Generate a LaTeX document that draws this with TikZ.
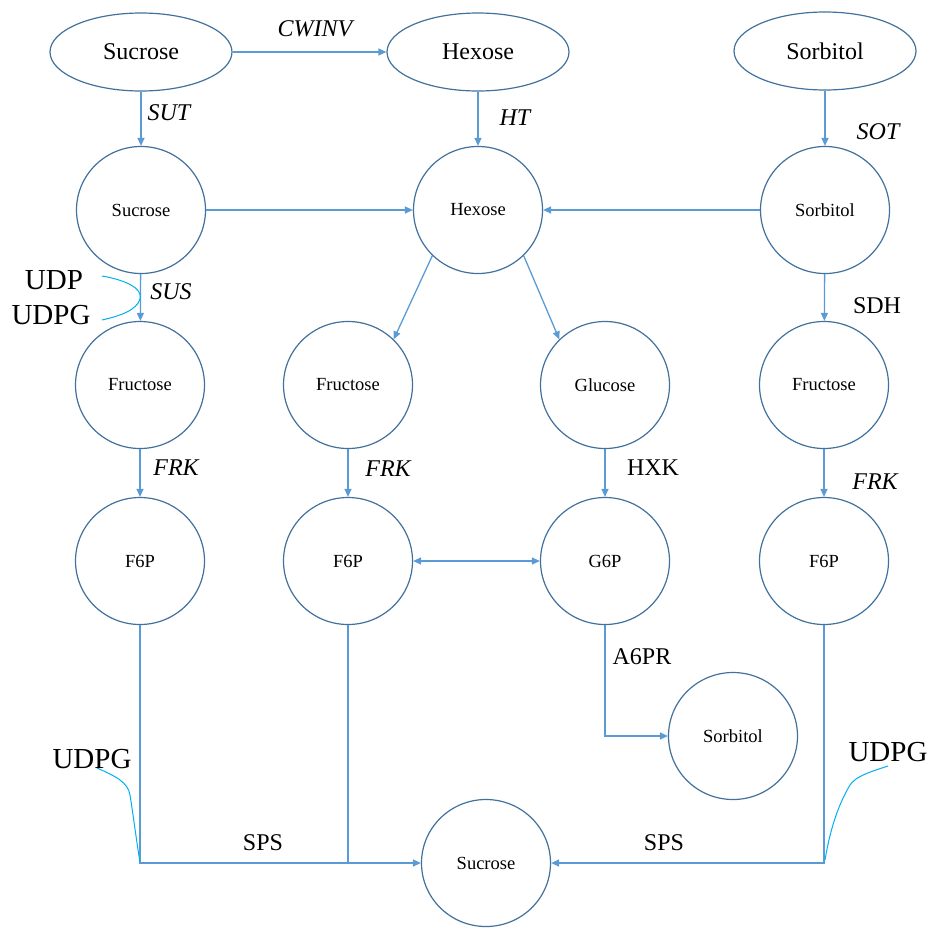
\documentclass[tikz,border=0pt]{standalone}
\usepackage{fontspec}
\setmainfont{Liberation Serif}
\usetikzlibrary{arrows.meta,shapes.geometric}
\definecolor{nodeblue}{HTML}{41719C}
\definecolor{arrblue}{HTML}{5B9BD5}
\definecolor{curvecyan}{HTML}{00B0F0}
\begin{document}
\begin{tikzpicture}[x=1pt,y=-1pt,
  topell/.style={ellipse,draw=nodeblue,line width=1.2pt,minimum width=182pt,minimum height=78pt,inner sep=0pt,font=\fontsize{24}{26}\selectfont},
  circ/.style={ellipse,draw=nodeblue,line width=1.2pt,minimum width=129pt,minimum height=127pt,inner sep=0pt,font=\fontsize{18.5}{20}\selectfont},
  arr/.style={draw=arrblue,line width=1.3pt,-{Triangle[length=8pt,width=7pt]}},
  plain/.style={draw=arrblue,line width=1.3pt},
  curv/.style={draw=curvecyan,line width=1pt},
  lab/.style={font=\fontsize{24}{26}\selectfont,inner sep=0pt},
  ilab/.style={font=\fontsize{24}{26}\selectfont\itshape,inner sep=0pt},
  big/.style={font=\fontsize{29}{31}\selectfont,inner sep=0pt}]
\useasboundingbox (0,0) rectangle (931,927);
% top ellipses
\node[topell] (sucT) at (141,52) {Sucrose};
\node[topell] (hexT) at (478,52) {Hexose};
\node[topell] (sorT) at (825,51) {Sorbitol};
% row 2
\node[circ] (suc2) at (141,210) {Sucrose};
\node[circ] (hex2) at (478,210) {Hexose};
\node[circ] (sor2) at (825,210) {Sorbitol};
% row 3
\node[circ] (fru1) at (140,385) {Fructose};
\node[circ] (fru2) at (348,385) {Fructose};
\node[circ] (glu) at (605,385) {Glucose};
\node[circ] (fru4) at (824,385) {Fructose};
% row 4
\node[circ] (f6p1) at (140,561) {F6P};
\node[circ] (f6p2) at (348,561) {F6P};
\node[circ] (g6p) at (605,561) {G6P};
\node[circ] (f6p4) at (824,561) {F6P};
% others
\node[circ] (sor3) at (733,736) {Sorbitol};
\node[circ] (sucB) at (486,863) {Sucrose};
% connectors
\draw[arr] (sucT) -- (hexT);
\draw[arr] (sucT) -- (suc2);
\draw[arr] (hexT) -- (hex2);
\draw[arr] (sorT) -- (sor2);
\draw[arr] (suc2) -- (hex2);
\draw[arr] (sor2) -- (hex2);
\draw[arr] (hex2.-135) -- (fru2.45);
\draw[arr] (hex2.-45) -- (glu.135);
\draw[arr] (suc2) -- (fru1);
\draw[arr] (sor2) -- (fru4);
\draw[arr] (fru1) -- (f6p1);
\draw[arr] (fru2) -- (f6p2);
\draw[arr] (glu) -- (g6p);
\draw[arr] (fru4) -- (f6p4);
\draw[draw=arrblue,line width=1.3pt,{Triangle[length=8pt,width=7pt]}-{Triangle[length=8pt,width=7pt]}] (f6p2) -- (g6p);
\draw[arr] (g6p.south) |- (sor3.west);
\draw[arr] (f6p1.south) |- (sucB.west);
\draw[plain] (f6p2.south) -- (f6p2.south |- sucB.west);
\draw[arr] (f6p4.south) |- (sucB.east);
% curves
\coordinate (c1s) at (102,276);
\coordinate (c1m) at (140,299);
\coordinate (c1e) at (102,320);
\draw[curv] (c1s) .. controls (125,280) and (143,288) .. (c1m) .. controls (137,310) and (120,316) .. (c1e);
\coordinate (c2s) at (97,768);
\coordinate (c2e) at (140,862);
\draw[curv] (c2s) .. controls (115,776) and (128,782) .. (130,795) .. controls (134,820) and (137,845) .. (c2e);
\coordinate (c3s) at (888,766);
\coordinate (c3e) at (825,860);
\draw[curv] (c3s) .. controls (870,772) and (856,776) .. (850,785) .. controls (838,805) and (830,830) .. (c3e);
% labels
\node[ilab] (lcw) at (315,29) {CWINV};
\node[ilab] (lsut) at (169,113) {SUT};
\node[ilab] (lht) at (515,118) {HT};
\node[ilab] (lsot) at (878,132) {SOT};
\node[ilab] (lsus) at (171,292) {SUS};
\node[lab] (lsdh) at (877,306) {SDH};
\node[ilab] (lfrk1) at (176,468) {FRK};
\node[ilab] (lfrk2) at (388,469) {FRK};
\node[lab] (lhxk) at (653,468) {HXK};
\node[ilab] (lfrk4) at (875,482) {FRK};
\node[lab] (la6) at (642,657) {A6PR};
\node[lab] (lsps1) at (263,843) {SPS};
\node[lab] (lsps2) at (664,843) {SPS};
\node[big] (ludp) at (54,280) {UDP};
\node[big] (ludpg1) at (51,315) {UDPG};
\node[big] (ludpg2) at (92,759) {UDPG};
\node[big] (ludpg3) at (888,752) {UDPG};
\end{tikzpicture}
\end{document}
